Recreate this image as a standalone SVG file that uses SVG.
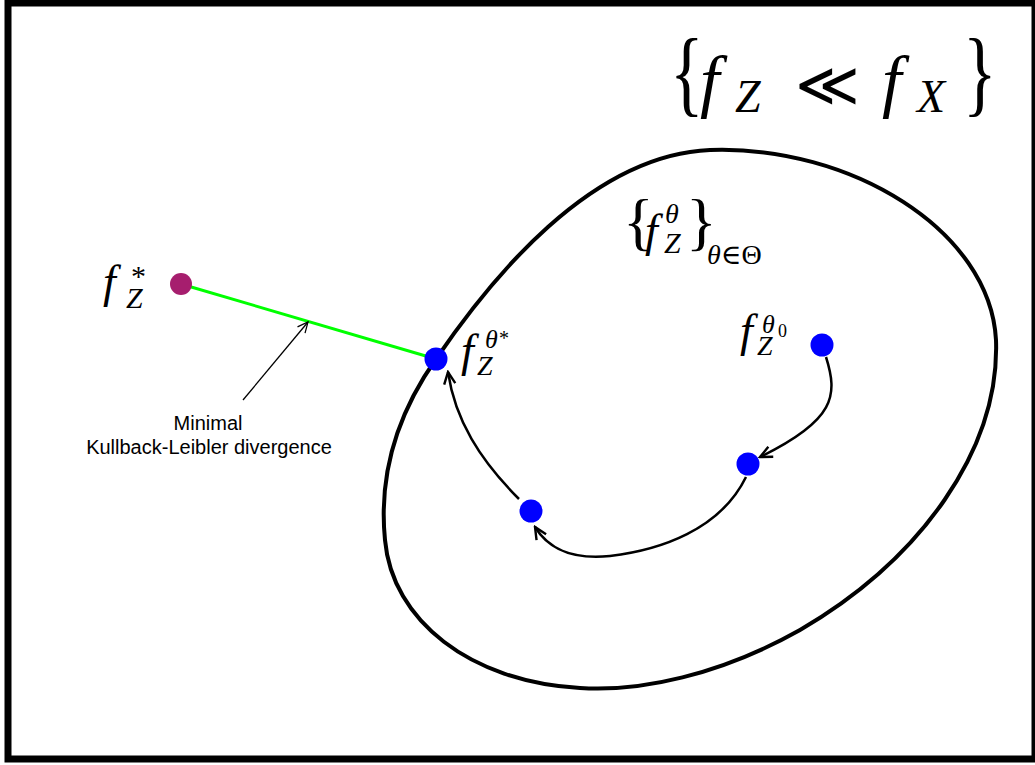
<svg xmlns="http://www.w3.org/2000/svg" width="1035" height="765" viewBox="0 0 1035 765">
<defs>
<style>
.m{font-family:"Liberation Serif","DejaVu Serif",serif;fill:#000}
.i{font-style:italic}
.s{font-family:"Liberation Sans",Arial,sans-serif;font-size:20px;fill:#000;text-anchor:middle}
.c{fill:none;stroke:#000;stroke-width:2.5}
.dot{fill:#0000ff}
</style>
<marker id="ah" viewBox="0 0 20 20" refX="18" refY="10" markerWidth="16" markerHeight="16" markerUnits="userSpaceOnUse" orient="auto">
<path d="M3,3 L18,10 L3,17" fill="none" stroke="#000" stroke-width="3"/>
</marker>
<marker id="ahs" viewBox="0 0 20 20" refX="18" refY="10" markerWidth="14" markerHeight="14" markerUnits="userSpaceOnUse" orient="auto">
<path d="M3,3 L18,10 L3,17" fill="none" stroke="#000" stroke-width="1.8"/>
</marker>
</defs>
<rect x="0" y="0" width="1035" height="765" fill="#fff"/>
<rect x="8" y="3" width="1027" height="756" fill="none" stroke="#000" stroke-width="7"/>

<g id="set">
<path d="M710,150 C850,145 990,230 996,340 C1000,450 920,560 800,630 C720,675 640,692 580,688 C470,682 392,620 385,540 C378,470 400,410 436,359 C490,280 590,155 710,150 Z" fill="none" stroke="#000" stroke-width="4"/>
</g>

<g id="connectors">
<line x1="181" y1="284" x2="436" y2="359" stroke="#00ff00" stroke-width="3"/>
<line x1="243" y1="400" x2="308" y2="322" stroke="#000" stroke-width="1.3" marker-end="url(#ahs)"/>
<path class="c" d="M826,357 C838,395 836,420 760,457" marker-end="url(#ah)"/>
<path class="c" d="M746,477 C720,530 660,550 610,556 C570,560 548,548 535,527" marker-end="url(#ah)"/>
<path class="c" d="M519,499 C480,460 455,420 448,372" marker-end="url(#ah)"/>
</g>

<g id="fstar">
<circle cx="181" cy="284" r="11" fill="#a61e6e"/>
<text class="m"><tspan class="i" x="103" y="297" font-size="46">f</tspan><tspan x="131" y="286" font-size="30">*</tspan><tspan class="i" x="126" y="308" font-size="30">Z</tspan></text>
</g>

<g id="ftheta-star">
<circle class="dot" cx="436" cy="359" r="11.5"/>
<text class="m"><tspan class="i" x="461" y="366" font-size="46">f</tspan><tspan class="i" x="485" y="348" font-size="26">θ</tspan><tspan x="499" y="345" font-size="20">*</tspan><tspan class="i" x="477" y="375" font-size="28">Z</tspan></text>
</g>

<g id="ftheta0">
<circle class="dot" cx="822" cy="345" r="11.5"/>
<text class="m"><tspan class="i" x="740" y="346" font-size="46">f</tspan><tspan class="i" x="762" y="333" font-size="26">θ</tspan><tspan x="778" y="337" font-size="18">0</tspan><tspan class="i" x="757" y="355" font-size="28">Z</tspan></text>
</g>

<g id="p1"><circle class="dot" cx="748" cy="464" r="11.5"/></g>
<g id="p2"><circle class="dot" cx="531" cy="511" r="11.5"/></g>

<g id="family">
<text class="m"><tspan x="623" y="243" font-size="64">{</tspan><tspan class="i" x="645" y="246" font-size="46">f</tspan><tspan class="i" x="665" y="223" font-size="28">θ</tspan><tspan class="i" x="664" y="253" font-size="30">Z</tspan><tspan x="686" y="243" font-size="64">}</tspan><tspan class="i" x="707" y="264" font-size="28">θ</tspan><tspan font-size="28">∈Θ</tspan></text>
</g>

<g id="abs">
<text class="m" font-size="70" transform="translate(670,104) scale(1,1.35)">{</text>
<text class="m"><tspan class="i" x="700" y="104" font-size="70">f</tspan><tspan class="i" x="735" y="112" font-size="46">Z</tspan><tspan x="795" y="106" font-size="62" style="font-family:'DejaVu Sans';font-weight:200">≪</tspan><tspan class="i" x="882" y="104" font-size="70">f</tspan><tspan class="i" x="917" y="112" font-size="46">X</tspan></text>
<text class="m" font-size="70" transform="translate(963,104) scale(1,1.35)">}</text>
</g>

<g id="label">
<text class="s" x="208" y="430">Minimal</text>
<text class="s" x="209" y="454">Kullback-Leibler divergence</text>
</g>
</svg>
